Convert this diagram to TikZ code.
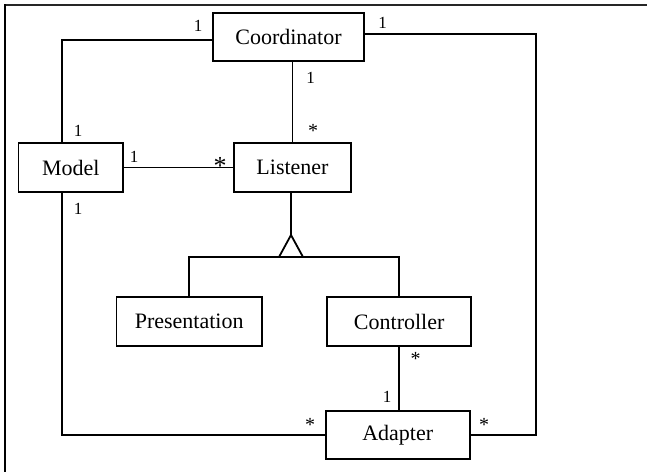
\documentclass[tikz,border=0pt]{standalone}
\usepackage{fontspec}
\setmainfont{Liberation Serif}
\begin{document}
\begin{tikzpicture}[x=1pt,y=-1pt,line width=1.8pt,
  cls/.style={draw,minimum height=48.5pt,inner sep=0pt,font=\fontsize{22}{26}\selectfont},
  mult/.style={anchor=base,inner sep=0pt,font=\fontsize{17}{20}\selectfont},
  star/.style={mult,font=\fontsize{20}{24}\selectfont}]

\useasboundingbox (0,0) rectangle (647,472);
\draw[line width=2pt,black!85] (4,4.5) -- (647,4.5);
\draw[line width=2pt] (5,4) -- (5,472);

\node[cls,minimum width=151pt] (coord) at (288.5,37) {Coordinator};
\node[cls,minimum width=104.5pt] (model) at (70.75,167.5) {Model};
\node[cls,minimum width=117pt] (listener) at (292.5,167.5) {Listener};
\node[cls,minimum width=145.6pt] (pres) at (189.2,321.5) {Presentation};
\node[cls,minimum width=144.3pt] (ctrl) at (399.2,321.5) {Controller};
\node[cls,minimum width=144pt] (adapter) at (397.7,435) {Adapter};

\coordinate (tip) at (291,235);
\coordinate (base) at (291,257);

\draw ([yshift=-3pt]coord.west) -| ([xshift=-9pt]model.north);
\draw ([yshift=3pt]coord.east) -- ++(171,0) |- (adapter.east);
\draw (listener.north) -- (listener.north |- coord.south);
\draw (model.east) -- (listener.west);
\draw ([xshift=-9pt]model.south) |- (adapter.west);
\draw (tip |- listener.south) -- (tip);
\draw[line join=miter] (tip) -- ++(-12,22) -- ++(24,0) -- cycle;
\draw (pres.north) |- (base) -| (ctrl.north);
\draw (ctrl.south) -- (ctrl.south |- adapter.north);

\node[mult] (m1) at (198,31) {1};
\node[mult] (m2) at (382.5,28.5) {1};
\node[mult] (m3) at (310.5,83.5) {1};
\node[star] (m4) at (313,137) {*};
\node[mult] (m5) at (78,136) {1};
\node[mult] (m6) at (134,162) {1};
\node[mult,font=\fontsize{26}{30}\selectfont] (m7) at (220,174) {*};
\node[mult] (m8) at (78,214) {1};
\node[star] (m9) at (415.5,365.7) {*};
\node[mult] (m10) at (387,402.7) {1};
\node[star] (m11) at (310,431) {*};
\node[star] (m12) at (484,431) {*};

\end{tikzpicture}
\end{document}
